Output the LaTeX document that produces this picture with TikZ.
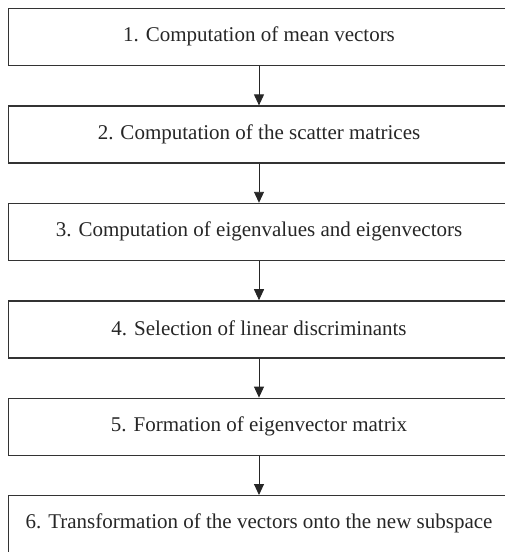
\documentclass[tikz,border=0pt]{standalone}
\usepackage{fontspec}
\setmainfont{Liberation Serif}
\usetikzlibrary{arrows.meta}
\begin{document}
\begin{tikzpicture}[x=1pt,y=-1pt,
  stepbox/.style={draw=black!80,line width=1.4pt,minimum width=510pt,minimum height=57pt,anchor=north west,inner sep=0pt},
  steptext/.style={font=\fontsize{21}{24}\selectfont,text=black!85},
  flow/.style={draw=black!85,line width=0.9pt,-{Triangle[length=11pt,width=10pt]}}]
\useasboundingbox (0,0) rectangle (505,552);
\clip (0,0) rectangle (505,552);
\node[stepbox] (b1) at (8,8) {};
\node[stepbox] (b2) at (8,105.4) {};
\node[stepbox] (b3) at (8,202.8) {};
\node[stepbox] (b4) at (8,300.2) {};
\node[stepbox] (b5) at (8,397.6) {};
\node[stepbox] (b6) at (8,495) {};
\node[steptext] (t1) at (259,36.5) {1. Computation of mean vectors};
\node[steptext] (t2) at (259,133.9) {2. Computation of the scatter matrices};
\node[steptext] (t3) at (259,231.3) {3. Computation of eigenvalues and eigenvectors};
\node[steptext] (t4) at (259,328.7) {4. Selection of linear discriminants};
\node[steptext] (t5) at (259,426.1) {5. Formation of eigenvector matrix};
\node[steptext] (t6) at (259,523.5) {6. Transformation of the vectors onto the new subspace};
\coordinate (ax) at (259,0);
\draw[flow] (b1.south west -| ax) -- (b2.north west -| ax);
\draw[flow] (b2.south west -| ax) -- (b3.north west -| ax);
\draw[flow] (b3.south west -| ax) -- (b4.north west -| ax);
\draw[flow] (b4.south west -| ax) -- (b5.north west -| ax);
\draw[flow] (b5.south west -| ax) -- (b6.north west -| ax);
\end{tikzpicture}
\end{document}
